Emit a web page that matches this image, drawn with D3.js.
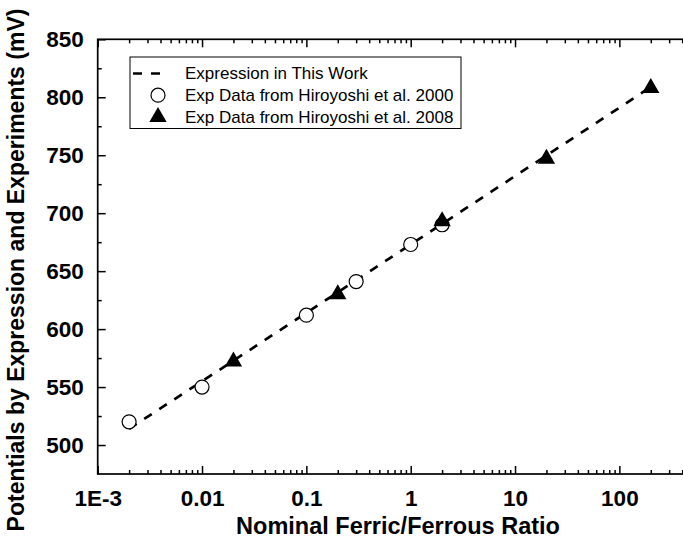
<!DOCTYPE html>
<html>
<head>
<meta charset="utf-8">
<script src="https://cdn.jsdelivr.net/npm/d3@7"></script>
<style>
  body { margin: 0; background: #fff; }
  text { font-family: "Liberation Sans", Arial, sans-serif; }
</style>
</head>
<body>
<svg id="chart" width="683" height="541"></svg>
<script>
// Hiroyoshi et al. 2000 (open circles)
const ratio2000 = [0.002, 0.01, 0.1, 0.3, 1, 2]
const pot2000 = [520, 550, 612, 641, 673, 690]

// Hiroyoshi et al. 2008 (filled triangles)
const ratio2008 = [0.02, 0.2, 2, 20, 200]
const pot2008 = [572, 630, 693, 747, 808]

// Expression in this work (dashed line)
const exprRatio = [0.002, 0.01, 0.1, 1, 10, 100, 200]
const exprPot = [514, 555, 614, 673, 732, 791, 809]

const xTicks = [1e-3, 1e-2, 0.1, 1, 10, 100, 1000]
const xTickLabels = ['1E-3', '0.01', '0.1', '1', '10', '100', '']
const yTicks = [500, 550, 600, 650, 700, 750, 800, 850]
const yMinor = [525, 575, 625, 675, 725, 775, 825]
const legendLabels = [
  'Expression in This Work',
  'Exp Data from Hiroyoshi et al. 2000',
  'Exp Data from Hiroyoshi et al. 2008'
]

const svg = d3.select('#chart')

// the plot runs on past the right edge of the picture (to 1000)
const x = d3.scaleLog().domain([1e-3, 1e3]).range([97.7, 723.7])
const y = d3.scaleLinear().domain([475, 850]).range([474, 39.3])

const xMinor = []
xTicks.slice(0, -1).forEach(d => {
  for (let k = 2; k < 10; k++) xMinor.push(d * k)
})

const tickFont = g => g.selectAll('text')
  .style('font-size', '22.5px')
  .style('font-weight', 'bold')
  .attr('fill', '#000')

const axisStyle = g => {
  g.select('.domain').remove()
  g.selectAll('line').attr('stroke', '#000').attr('stroke-width', 1.5)
}

// bottom axis
svg.append('g')
  .attr('transform', `translate(0,${y(475)})`)
  .call(d3.axisBottom(x).tickValues(xTicks).tickSize(-8).tickPadding(16)
    .tickFormat((d, i) => xTickLabels[i]))
  .call(axisStyle)
  .call(tickFont)

svg.append('g')
  .attr('transform', `translate(0,${y(475)})`)
  .call(d3.axisBottom(x).tickValues(xMinor).tickSize(-4).tickFormat(''))
  .call(axisStyle)

// top axis
svg.append('g')
  .attr('transform', `translate(0,${y(850)})`)
  .call(d3.axisTop(x).tickValues(xTicks).tickSize(-8).tickFormat(''))
  .call(axisStyle)

svg.append('g')
  .attr('transform', `translate(0,${y(850)})`)
  .call(d3.axisTop(x).tickValues(xMinor).tickSize(-4).tickFormat(''))
  .call(axisStyle)

// left axis
svg.append('g')
  .attr('transform', `translate(${x(1e-3)},0)`)
  .call(d3.axisLeft(y).tickValues(yTicks).tickSize(-8).tickPadding(14))
  .call(axisStyle)
  .call(tickFont)

svg.append('g')
  .attr('transform', `translate(${x(1e-3)},0)`)
  .call(d3.axisLeft(y).tickValues(yMinor).tickSize(-4).tickFormat(''))
  .call(axisStyle)

// frame
svg.append('rect')
  .attr('x', x(1e-3))
  .attr('y', y(850))
  .attr('width', x(1e3) - x(1e-3))
  .attr('height', y(475) - y(850))
  .attr('fill', 'none')
  .attr('stroke', '#000')
  .attr('stroke-width', 1.7)

// axis titles
svg.append('text')
  .attr('x', 398)
  .attr('y', 534)
  .attr('text-anchor', 'middle')
  .style('font-size', '23.5px')
  .style('font-weight', 'bold')
  .text('Nominal Ferric/Ferrous Ratio')

svg.append('text')
  .attr('transform', 'translate(24,270) rotate(-90)')
  .attr('text-anchor', 'middle')
  .style('font-size', '23px')
  .style('font-weight', 'bold')
  .text('Potentials by Expression and Experiments (mV)')

// dashed expression line
const line = d3.line()
  .x(d => x(d[0]))
  .y(d => y(d[1]))

svg.append('path')
  .datum(d3.zip(exprRatio, exprPot))
  .attr('d', line)
  .attr('fill', 'none')
  .attr('stroke', '#000')
  .attr('stroke-width', 2.7)
  .attr('stroke-dasharray', '9,9')

const triangle = d3.symbol().type(d3.symbolTriangle).size(130)

// 2000 circles
svg.append('g').selectAll('circle')
  .data(d3.zip(ratio2000, pot2000))
  .join('circle')
  .attr('cx', d => x(d[0]))
  .attr('cy', d => y(d[1]))
  .attr('r', 7)
  .attr('fill', '#fff')
  .attr('stroke', '#000')
  .attr('stroke-width', 1.2)

// 2008 triangles
svg.append('g').selectAll('path')
  .data(d3.zip(ratio2008, pot2008))
  .join('path')
  .attr('transform', d => `translate(${x(d[0])},${y(d[1])})`)
  .attr('d', triangle)
  .attr('fill', '#000')

// legend
const legend = svg.append('g').attr('transform', 'translate(130,57)')

legend.append('rect')
  .attr('width', 331)
  .attr('height', 71.5)
  .attr('fill', '#fff')
  .attr('stroke', '#000')
  .attr('stroke-width', 1)

legend.selectAll('.lab')
  .data(legendLabels)
  .join('text')
  .attr('class', 'lab')
  .attr('x', 55)
  .attr('y', (_, i) => 16.5 + i * 21.7)
  .attr('dy', '0.35em')
  .style('font-size', '17px')
  .text(d => d)

legend.append('line')
  .attr('x1', 3).attr('x2', 31)
  .attr('y1', 16.5).attr('y2', 16.5)
  .attr('stroke', '#000')
  .attr('stroke-width', 2.7)
  .attr('stroke-dasharray', '9,9')

legend.append('circle')
  .attr('cx', 28).attr('cy', 38.2)
  .attr('r', 7)
  .attr('fill', '#fff')
  .attr('stroke', '#000')
  .attr('stroke-width', 1.2)

legend.append('path')
  .attr('transform', 'translate(28,60)')
  .attr('d', triangle)
  .attr('fill', '#000')
</script>
</body>
</html>
